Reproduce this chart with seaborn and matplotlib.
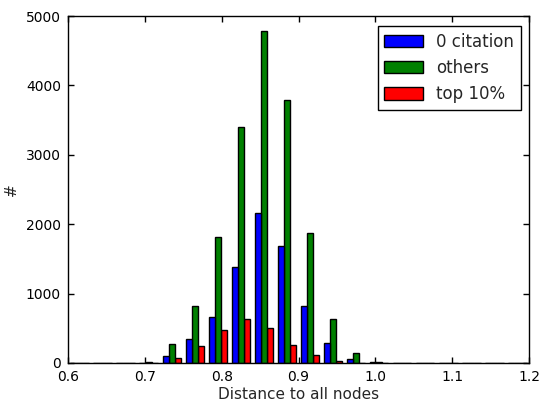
import numpy as np
import pandas as pd
import matplotlib
matplotlib.use("Agg")
import matplotlib.pyplot as plt
import seaborn as sns

# Histogram bin edges (20 bins from 0.6 to 1.2)
bin_edges = [0.60, 0.63, 0.66, 0.69, 0.72, 0.75, 0.78, 0.81, 0.84, 0.87, 0.90,
             0.93, 0.96, 0.99, 1.02, 1.05, 1.08, 1.11, 1.14, 1.17, 1.20]
series_names = ["0 citation", "others", "top 10%"]
zero_citation = [0, 0, 0, 5, 106, 352, 660, 1383, 2159, 1692, 824, 282, 62, 8, 0, 0, 0, 0, 0, 0]
others = [0, 0, 0, 15, 270, 824, 1812, 3403, 4777, 3784, 1875, 638, 150, 15, 0, 0, 0, 0, 0, 0]
top10 = [0, 0, 0, 3, 77, 241, 482, 631, 501, 255, 116, 36, 3, 2, 0, 0, 0, 0, 0, 0]
x_ticks = [0.6, 0.7, 0.8, 0.9, 1.0, 1.1, 1.2]
y_ticks = [0, 1000, 2000, 3000, 4000, 5000]

edges = np.array(bin_edges)
centers = (edges[:-1] + edges[1:]) / 2
rows = []
for name, vals in zip(series_names, [zero_citation, others, top10]):
    for c, v in zip(centers, vals):
        rows.append({"x": c, "w": v, "series": name})
df = pd.DataFrame(rows)

sns.set_style("ticks")
plt.rcParams["font.family"] = ["DejaVu Sans"]

fig = plt.figure(figsize=(5.43, 4.03), dpi=100)
ax = fig.add_axes([68 / 543, 1 - 363 / 403, (529 - 68) / 543, (363 - 16) / 403])

sns.histplot(data=df, x="x", weights="w", hue="series", hue_order=series_names,
             bins=list(bin_edges), multiple="dodge", shrink=0.8,
             palette={"0 citation": "#0000ff", "others": "#008000", "top 10%": "#ff0000"},
             alpha=1, edgecolor="black", linewidth=1, ax=ax, legend=True)

ax.set_xlim(0.6, 1.2)
ax.set_ylim(0, 5000)
ax.set_xticks(x_ticks)
ax.set_xticklabels([f"{t:.1f}" for t in x_ticks])
ax.set_yticks(y_ticks)
ax.set_yticklabels([str(t) for t in y_ticks])
ax.tick_params(direction="in", length=4, width=1, top=True, right=True,
               labelsize=10, colors="black", pad=5)
for s in ax.spines.values():
    s.set_visible(True)
    s.set_color("black")
    s.set_linewidth(1)
ax.set_xlabel("Distance to all nodes", fontsize=11, labelpad=2)
ax.set_ylabel("#", fontsize=11, labelpad=5)

sns.move_legend(ax, "upper right", title=None, fontsize=12, frameon=True,
                fancybox=False, edgecolor="black", framealpha=1,
                handlelength=2.3, handleheight=0.75, borderaxespad=0.5,
                bbox_to_anchor=(1.0, 0.995))
leg = ax.get_legend()
leg.get_frame().set_linewidth(1)

fig.savefig("out.png", dpi=100)
